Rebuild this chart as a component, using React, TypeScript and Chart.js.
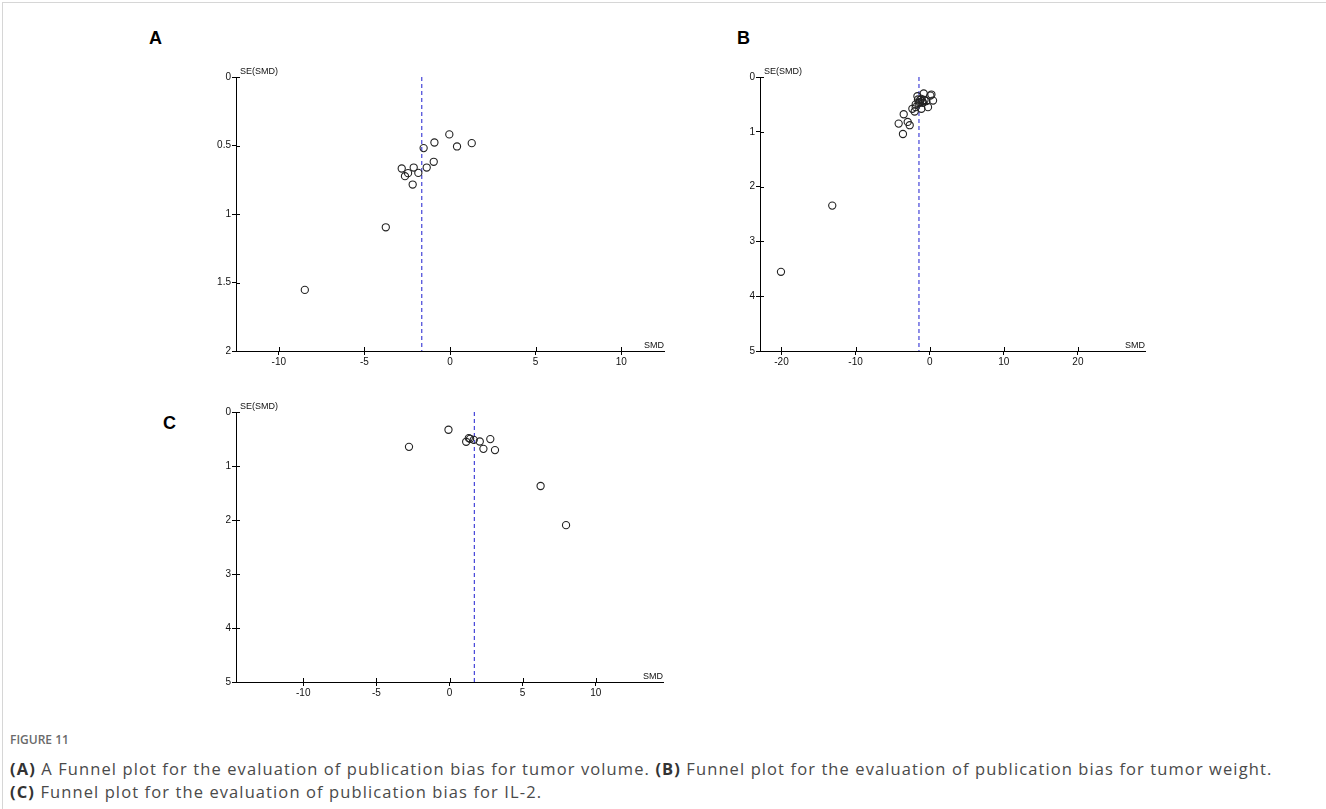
import React, { useEffect, useRef } from "react";
import { Chart, registerables } from "chart.js";

Chart.register(...registerables);

// ---------- Panel A: tumor volume ----------
const A_SMD = [-8.48, -3.75, -0.04, -0.91, 1.27, 0.41, -1.54, -0.95, -1.36, -2.12, -2.82, -2.45, -2.63, -1.85, -2.18];
const A_SE = [1.554, 1.097, 0.419, 0.478, 0.483, 0.507, 0.519, 0.619, 0.661, 0.661, 0.668, 0.702, 0.724, 0.7, 0.785];
const A_POOLED = -1.65;
const A_X_TICKS = [-10, -5, 0, 5, 10];
const A_Y_TICKS = [0, 0.5, 1, 1.5, 2];

// ---------- Panel B: tumor weight ----------
const B_SMD = [-20.07, -13.15, -3.61, -4.19, -2.97, -2.7, -3.51, -2.34, -2.03, -1.89, -1.89, -1.58, -1.66, -1.35, -1.12, -1.12, -0.91, -0.81, -0.45, -0.23, 0.09, 0.45, -1.3, -1.0, -0.7, -1.5, 0.23];
const B_SE = [3.555, 2.347, 1.04, 0.85, 0.82, 0.88, 0.68, 0.58, 0.63, 0.55, 0.5, 0.41, 0.35, 0.46, 0.58, 0.4, 0.47, 0.3, 0.44, 0.55, 0.34, 0.43, 0.42, 0.44, 0.42, 0.48, 0.32];
const B_POOLED = -1.45;
const B_X_TICKS = [-20, -10, 0, 10, 20];
const B_Y_TICKS = [0, 1, 2, 3, 4, 5];

// ---------- Panel C: IL-2 ----------
const C_SMD = [-2.77, -0.07, 1.32, 1.41, 1.14, 1.66, 2.07, 2.79, 2.32, 3.11, 6.23, 7.97];
const C_SE = [0.645, 0.329, 0.483, 0.496, 0.552, 0.515, 0.546, 0.502, 0.682, 0.706, 1.37, 2.095];
const C_POOLED = 1.7;
const C_X_TICKS = [-10, -5, 0, 5, 10];
const C_Y_TICKS = [0, 1, 2, 3, 4, 5];

const Y_TITLE = "SE(SMD)";
const X_TITLE = "SMD";

type PanelSpec = {
  smd: number[];
  se: number[];
  pooled: number;
  xTicks: number[];
  yTicks: number[];
  xMin: number;
  xMax: number;
  yMax: number;
  left: number;
  top: number;
  w: number;
  h: number;
  padTop: number;
  padRight: number;
  yW: number;
  xH: number;
};

const AXIS_FONT = "'Liberation Sans', Arial, sans-serif";

const decorPlugin = {
  id: "funnelDecor",
  afterDraw(chart: any) {
    const ctx = chart.ctx;
    const { left, top, right, bottom } = chart.chartArea;
    const xs = chart.scales.x;
    const ys = chart.scales.y;
    ctx.save();
    ctx.strokeStyle = "#000";
    ctx.lineWidth = 1;
    ctx.beginPath();
    xs.ticks.forEach((t: any) => {
      const px = Math.round(xs.getPixelForValue(t.value)) + 0.5;
      ctx.moveTo(px, bottom);
      ctx.lineTo(px, bottom - 4);
    });
    ys.ticks.forEach((t: any) => {
      const py = Math.round(ys.getPixelForValue(t.value)) + 0.5;
      ctx.moveTo(left, py);
      ctx.lineTo(left + 4, py);
    });
    ctx.stroke();
    ctx.fillStyle = "#111";
    ctx.font = `9px ${AXIS_FONT}`;
    ctx.textBaseline = "alphabetic";
    ctx.textAlign = "left";
    ctx.fillText(Y_TITLE, left + 4, top - 3);
    ctx.textAlign = "right";
    ctx.fillText(X_TITLE, right, bottom - 3);
    ctx.restore();
  },
};

function buildConfig(s: PanelSpec): any {
  const tickFont = { family: AXIS_FONT, size: 10 };
  return {
    type: "scatter",
    data: {
      datasets: [
        {
          type: "line",
          data: [
            { x: s.pooled, y: 0 },
            { x: s.pooled, y: s.yMax },
          ],
          borderColor: "#4444d8",
          borderWidth: 1.2,
          borderDash: [4, 3],
          pointRadius: 0,
          fill: false,
          order: 2,
        },
        {
          type: "scatter",
          data: s.smd.map((x, i) => ({ x, y: s.se[i] })),
          pointRadius: 3.6,
          pointHoverRadius: 3.6,
          borderWidth: 1.1,
          borderColor: "#222",
          backgroundColor: "rgba(0,0,0,0)",
          order: 1,
        },
      ],
    },
    options: {
      responsive: false,
      animation: false,
      devicePixelRatio: 1,
      events: [],
      layout: { padding: { left: 0, top: s.padTop, right: s.padRight, bottom: 0 } },
      plugins: {
        legend: { display: false },
        tooltip: { enabled: false },
        title: { display: false },
      },
      scales: {
        x: {
          type: "linear",
          min: s.xMin,
          max: s.xMax,
          afterBuildTicks: (sc: any) => {
            sc.ticks = s.xTicks.map((v) => ({ value: v }));
          },
          afterFit: (sc: any) => {
            sc.height = s.xH;
          },
          border: { display: true, color: "#000", width: 1 },
          grid: { display: true, drawOnChartArea: false, drawTicks: true, tickLength: 4, color: "#000" },
          ticks: {
            font: tickFont,
            color: "#111",
            padding: 1,
            maxRotation: 0,
            autoSkip: false,
            callback: (v: any) => String(v),
          },
        },
        y: {
          type: "linear",
          reverse: true,
          min: 0,
          max: s.yMax,
          afterBuildTicks: (sc: any) => {
            sc.ticks = s.yTicks.map((v) => ({ value: v }));
          },
          afterFit: (sc: any) => {
            sc.width = s.yW;
          },
          border: { display: true, color: "#000", width: 1 },
          grid: { display: true, drawOnChartArea: false, drawTicks: true, tickLength: 4, color: "#000" },
          ticks: {
            font: tickFont,
            color: "#111",
            padding: 1,
            autoSkip: false,
            callback: (v: any) => String(v),
          },
        },
      },
    },
    plugins: [decorPlugin],
  };
}

const PANELS: Record<string, PanelSpec> = {
  A: {
    smd: A_SMD, se: A_SE, pooled: A_POOLED, xTicks: A_X_TICKS, yTicks: A_Y_TICKS,
    xMin: -12.5, xMax: 12.5, yMax: 2,
    left: 200, top: 60, w: 480, h: 320, padTop: 17, padRight: 16, yW: 36, xH: 29,
  },
  B: {
    smd: B_SMD, se: B_SE, pooled: B_POOLED, xTicks: B_X_TICKS, yTicks: B_Y_TICKS,
    xMin: -22.9, xMax: 29.05, yMax: 5,
    left: 724, top: 60, w: 440, h: 320, padTop: 17, padRight: 19, yW: 36, xH: 29,
  },
  C: {
    smd: C_SMD, se: C_SE, pooled: C_POOLED, xTicks: C_X_TICKS, yTicks: C_Y_TICKS,
    xMin: -14.6, xMax: 14.6, yMax: 5,
    left: 200, top: 395, w: 480, h: 320, padTop: 17, padRight: 17, yW: 36, xH: 33,
  },
};

function Panel({ spec }: { spec: PanelSpec }) {
  const ref = useRef<HTMLCanvasElement>(null);
  useEffect(() => {
    const chart = new Chart(ref.current as HTMLCanvasElement, buildConfig(spec));
    return () => chart.destroy();
  }, [spec]);
  return (
    <canvas
      ref={ref}
      width={spec.w}
      height={spec.h}
      style={{ position: "absolute", left: spec.left, top: spec.top, width: spec.w, height: spec.h }}
    />
  );
}

const labelStyle: React.CSSProperties = {
  position: "absolute",
  fontFamily: AXIS_FONT,
  fontWeight: 700,
  fontSize: 18,
  lineHeight: "18px",
  color: "#000",
};

export default function App() {
  return (
    <div
      style={{
        position: "fixed",
        left: 0,
        top: 0,
        width: 1326,
        height: 809,
        background: "#fff",
        overflow: "hidden",
      }}
    >
      <div
        style={{
          position: "absolute",
          left: 2,
          top: 2,
          right: 0,
          bottom: 0,
          borderLeft: "1px solid #d6d6d6",
          borderTop: "1px solid #d6d6d6",
        }}
      />
      <div style={{ ...labelStyle, left: 149, top: 29 }}>A</div>
      <div style={{ ...labelStyle, left: 737, top: 29 }}>B</div>
      <div style={{ ...labelStyle, left: 163, top: 414 }}>C</div>
      <Panel spec={PANELS.A} />
      <Panel spec={PANELS.B} />
      <Panel spec={PANELS.C} />
      <div
        style={{
          position: "absolute",
          left: 10,
          top: 732,
          fontFamily: "'Open Sans', sans-serif",
          fontWeight: 600,
          fontSize: 12,
          lineHeight: "16px",
          color: "#6a6a6a",
        }}
      >
        FIGURE 11
      </div>
      <div
        style={{
          position: "absolute",
          left: 10,
          top: 757,
          fontFamily: "'Open Sans', sans-serif",
          fontSize: 16.5,
          letterSpacing: "1.1px",
          lineHeight: "23px",
          color: "#4a4a4a",
          whiteSpace: "nowrap",
        }}
      >
        <div>
          <b style={{ color: "#333" }}>(A)</b> A Funnel plot for the evaluation of publication bias for tumor volume.{" "}
          <b style={{ color: "#333" }}>(B)</b> Funnel plot for the evaluation of publication bias for tumor weight.
        </div>
        <div>
          <b style={{ color: "#333" }}>(C)</b> Funnel plot for the evaluation of publication bias for IL-2.
        </div>
      </div>
    </div>
  );
}
